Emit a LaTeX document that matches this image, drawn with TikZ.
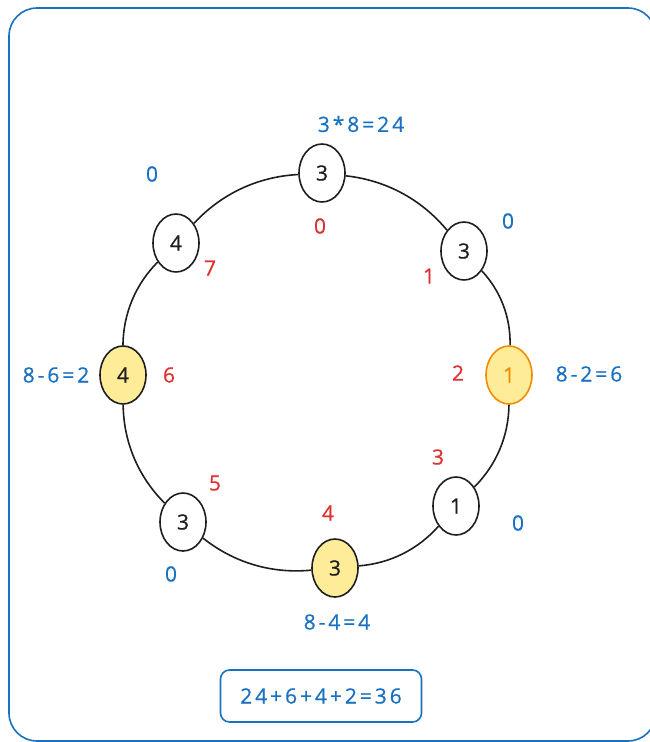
\documentclass[tikz,border=0pt]{standalone}
\usepackage{fontspec}
\setmainfont[LetterSpace=14,FakeBold=0.6]{Open Sans}
\usetikzlibrary{shapes.geometric}
\definecolor{ink}{HTML}{1E1E1E}
\definecolor{xblue}{HTML}{1971C2}
\definecolor{xred}{HTML}{E03131}
\definecolor{xyellow}{HTML}{FFEC99}
\definecolor{xorange}{HTML}{F08C00}
\tikzset{
  vert/.style={ellipse, draw=ink, line width=1.6pt, minimum width=46pt, minimum height=58pt,
    inner sep=0pt, fill=white, text=ink, font=\fontsize{21}{24}\selectfont},
  hl/.style={vert, fill=xyellow},
  hlo/.style={hl, draw=xorange, text=xorange},
  edge/.style={draw=ink, line width=1.6pt, looseness=0.9},
  idx/.style={text=xred, font=\fontsize{21}{24}\selectfont, inner sep=0pt},
  val/.style={text=xblue, font=\fontsize{21}{24}\selectfont, inner sep=0pt},
}
\begin{document}
\begin{tikzpicture}[x=1pt,y=-1pt]
\useasboundingbox (0,0) rectangle (649,742);
\draw[xblue, line width=1.6pt, rounded corners=28pt] (9,8) rectangle (656,741);
% vertices
\node[vert] (n0) at (322,173) {3};
\node[vert] (n1) at (464,251) {3};
\node[hlo]  (n2) at (509,375) {1};
\node[vert] (n3) at (456,506) {1};
\node[hl]   (n4) at (335,568) {3};
\node[vert] (n5) at (183,522) {3};
\node[hl]   (n6) at (123,375) {4};
\node[vert] (n7) at (176,243) {4};
% ring
\draw[edge] (n0) to[bend left=22] (n1);
\draw[edge] (n1) to[bend left=22] (n2);
\draw[edge] (n2) to[bend left=22] (n3);
\draw[edge] (n3) to[bend left=22] (n4);
\draw[edge] (n4) to[bend left=22] (n5);
\draw[edge] (n5) to[bend left=22] (n6);
\draw[edge] (n6) to[bend left=22] (n7);
\draw[edge] (n7) to[bend left=22] (n0);
% indices
\node[idx] (i0) at (320,226) {0};
\node[idx] (i1) at (429,276) {1};
\node[idx] (i2) at (458,373) {2};
\node[idx] (i3) at (438,457) {3};
\node[idx] (i4) at (328,513) {4};
\node[idx] (i5) at (215,483) {5};
\node[idx] (i6) at (169,375) {6};
\node[idx] (i7) at (210,268) {7};
% values
\node[val] (v0) at (361,124) {3*8=24};
\node[val] (v1) at (508,221) {0};
\node[val] (v2) at (589,374) {8-2=6};
\node[val] (v3) at (518,523) {0};
\node[val] (v4) at (337,622) {8-4=4};
\node[val] (v5) at (171,574) {0};
\node[val] (v6) at (56,375) {8-6=2};
\node[val] (v7) at (152,174) {0};
% sum
\node[draw=xblue, line width=1.6pt, rounded corners=9pt, minimum width=201pt, minimum height=52pt,
  text=xblue, font=\fontsize{21}{24}\selectfont] (sum) at (321,696) {24+6+4+2=36};
\end{tikzpicture}
\end{document}
